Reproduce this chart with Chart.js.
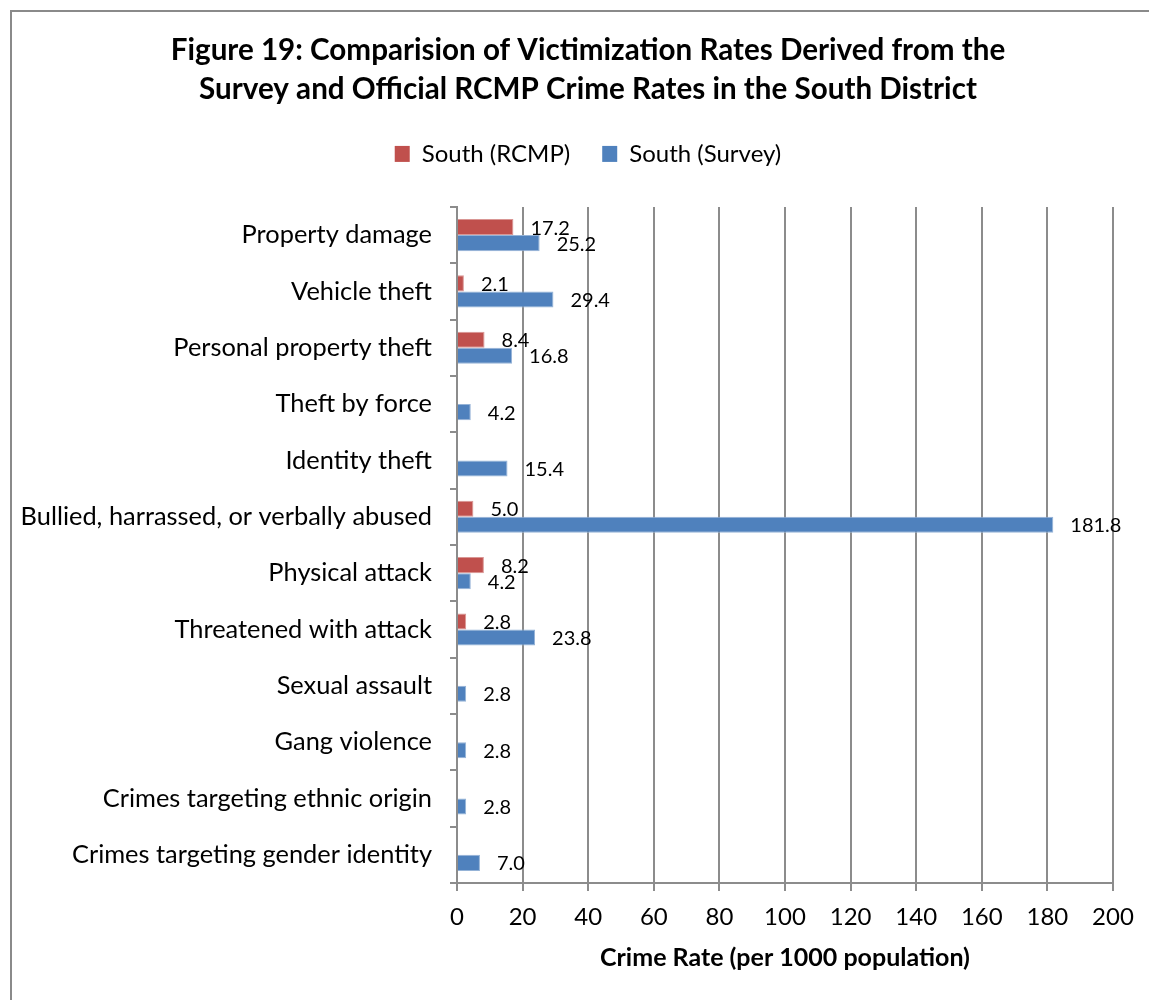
<!DOCTYPE html>
<html>
<head>
<meta charset="utf-8">
<script src="https://cdn.jsdelivr.net/npm/chart.js@4.4.1/dist/chart.umd.min.js"></script>
<style>
  html, body { margin: 0; padding: 0; background: #fff; overflow: hidden; }
  #frame { position: absolute; left: 10px; top: 10px; width: 1300px; height: 1200px; border: 2px solid #8a8a8a; }
  #wrap { position: absolute; left: 0; top: 0; width: 1149px; height: 1000px; overflow: hidden; }
</style>
</head>
<body>
<div id="frame"></div>
<div id="wrap"><canvas id="crimeChart" width="1176" height="1000"></canvas></div>
<script>
// Categories (top to bottom)
const categories = [
  "Property damage",
  "Vehicle theft",
  "Personal property theft",
  "Theft by force",
  "Identity theft",
  "Bullied, harrassed, or verbally abused",
  "Physical attack",
  "Threatened with attack",
  "Sexual assault",
  "Gang violence",
  "Crimes targeting ethnic origin",
  "Crimes targeting gender identity"
];
const rcmpRates = [17.2, 2.1, 8.4, null, null, 5.0, 8.2, 2.8, null, null, null, null];
const surveyRates = [25.2, 29.4, 16.8, 4.2, 15.4, 181.8, 4.2, 23.8, 2.8, 2.8, 2.8, 7.0];

const FONT = "Lato, 'Open Sans', sans-serif";

// value labels to the right of each bar
const valueLabels = {
  id: "valueLabels",
  afterDatasetsDraw(chart) {
    const ctx = chart.ctx;
    ctx.save();
    ctx.font = "20px " + FONT;
    ctx.fillStyle = "#000";
    ctx.textBaseline = "middle";
    ctx.textAlign = "left";
    chart.data.datasets.forEach((ds, di) => {
      const meta = chart.getDatasetMeta(di);
      meta.data.forEach((bar, i) => {
        const v = ds.data[i];
        if (v === null) return;
        ctx.fillText(v.toFixed(1), bar.x + 17, bar.y + 1);
      });
    });
    ctx.restore();
  }
};

const ctx = document.getElementById("crimeChart").getContext("2d");

new Chart(ctx, {
  type: "bar",
  data: {
    labels: categories,
    datasets: [
      {
        label: "South (RCMP)",
        data: rcmpRates,
        xAxisID: "x",
        yAxisID: "y",
        backgroundColor: "#C0504D",
        borderColor: "#D99694",
        borderWidth: 1
      },
      {
        label: "South (Survey)",
        data: surveyRates,
        xAxisID: "x",
        yAxisID: "y",
        backgroundColor: "#4F81BD",
        borderColor: "#95B3D7",
        borderWidth: 1
      }
    ]
  },
  options: {
    indexAxis: "y",
    responsive: false,
    animation: false,
    devicePixelRatio: 1,
    categoryPercentage: 0.57,
    barPercentage: 1,
    layout: { padding: { left: 0, right: 0, top: 0, bottom: 27 } },
    plugins: {
      title: {
        display: true,
        text: [
          "Figure 19: Comparision of Victimization Rates Derived from the",
          "Survey and Official RCMP Crime Rates in the South District"
        ],
        color: "#000",
        font: { family: FONT, size: 29.6, weight: "bold", lineHeight: 1.35 },
        padding: { top: 30, bottom: 0 }
      },
      legend: {
        position: "top",
        labels: {
          color: "#000",
          font: { family: FONT, size: 24 },
          boxWidth: 15,
          boxHeight: 16,
          padding: 32,
          generateLabels(chart) {
            return chart.data.datasets.map((ds, i) => ({
              text: ds.label,
              fillStyle: ds.backgroundColor,
              strokeStyle: ds.backgroundColor,
              lineWidth: 0,
              fontColor: "#000",
              datasetIndex: i
            }));
          }
        }
      },
      tooltip: { enabled: false }
    },
    scales: {
      x: {
        min: 0,
        max: 200,
        ticks: {
          stepSize: 20,
          color: "#000",
          font: { family: FONT, size: 24 },
          padding: 12
        },
        grid: {
          color: "#8c8c8c",
          lineWidth: 2,
          tickLength: 8
        },
        border: { color: "#8c8c8c", width: 2 },
        title: {
          display: true,
          text: "Crime Rate (per 1000 population)",
          color: "#000",
          font: { family: FONT, size: 25, weight: "bold" },
          padding: { top: 0, bottom: 0 }
        },
        afterFit(scale) { scale.height = 90; }
      },
      y: {
        ticks: {
          color: "#000",
          font: { family: FONT, size: 25.4 },
          padding: 18
        },
        grid: {
          offset: true,
          drawOnChartArea: false,
          color: "#8c8c8c",
          lineWidth: 2,
          tickLength: 7
        },
        border: { color: "#8c8c8c", width: 2 },
        afterFit(scale) { scale.width = 457; }
      },
      // empty spacers: gap under the legend, margin on the right
      spacerTop: {
        type: "linear",
        position: "top",
        display: true,
        ticks: { display: false },
        grid: { display: false },
        border: { display: false },
        afterFit(scale) { scale.height = 31; }
      },
      spacerRight: {
        type: "linear",
        position: "right",
        display: true,
        ticks: { display: false },
        grid: { display: false },
        border: { display: false },
        afterFit(scale) { scale.width = 63; }
      }
    }
  },
  plugins: [valueLabels]
});
</script>
</body>
</html>
